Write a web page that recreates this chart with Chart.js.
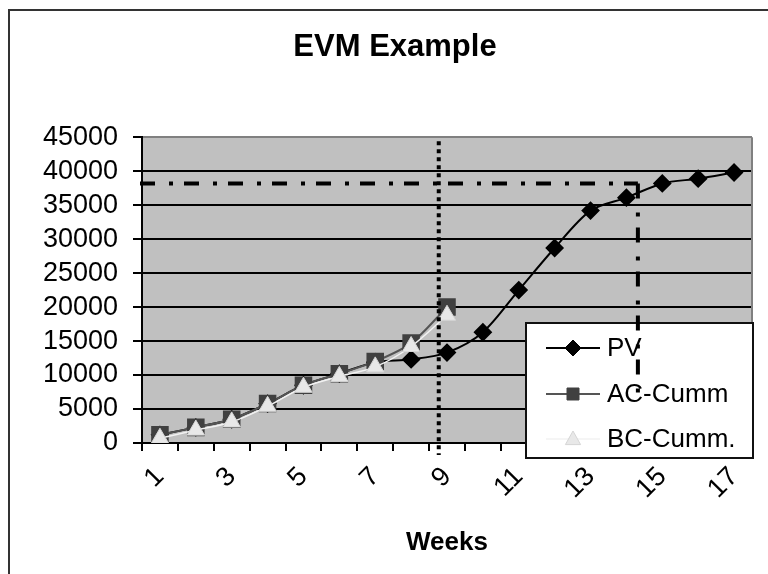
<!DOCTYPE html>
<html lang="en">
<head>
    <meta charset="UTF-8">
    <title>EVM Example</title>
    <script src="https://cdn.jsdelivr.net/npm/chart.js@4.4.0/dist/chart.umd.min.js"></script>
    <style>
        html, body { margin: 0; padding: 0; background: #fff; }
        canvas { display: block; }
    </style>
</head>
<body>
    <canvas id="evmChart" width="768" height="574"></canvas>

    <script>
        // chart data
        var weeks = ['1', '2', '3', '4', '5', '6', '7', '8', '9', '10', '11', '12', '13', '14', '15', '16', '17'];
        var pvValues = [1200, 2300, 3500, 5800, 8500, 10200, 11900, 12300, 13300, 16300, 22500, 28700, 34200, 36100, 38200, 38900, 39800];
        var acValues = [1200, 2300, 3500, 5800, 8500, 10200, 12000, 14700, 20000];
        var bcValues = [700, 1900, 3100, 5400, 8200, 9800, 11200, 14200, 18800];
        var yTickStep = 5000;
        var yMax = 45000;

        // reference lines (week number / value units)
        var statusWeek = 8.77;
        var budgetLevel = 38200;
        var finishWeek = 14.32;
        var finishLineEnd = 6800;

        Chart.defaults.font.family = "'Liberation Sans', Arial, sans-serif";
        Chart.defaults.color = '#000';

        function drawMarker(ctx, style, x, y, r, fill, stroke) {
            ctx.save();
            ctx.fillStyle = fill;
            ctx.strokeStyle = stroke;
            ctx.lineWidth = 1;
            ctx.beginPath();
            if (style === 'rectRot') {
                ctx.moveTo(x, y - r); ctx.lineTo(x + r, y); ctx.lineTo(x, y + r); ctx.lineTo(x - r, y);
            } else if (style === 'rect') {
                ctx.rect(x - r, y - r, 2 * r, 2 * r);
            } else {
                ctx.moveTo(x, y - r); ctx.lineTo(x + r * 0.95, y + r * 0.7); ctx.lineTo(x - r * 0.95, y + r * 0.7);
            }
            ctx.closePath();
            ctx.fill();
            ctx.stroke();
            ctx.restore();
        }

        var evmPlugin = {
            id: 'evmExtras',
            beforeDraw: function (chart) {
                var ctx = chart.ctx, a = chart.chartArea;
                ctx.save();
                // outer frame
                ctx.strokeStyle = '#333';
                ctx.lineWidth = 2;
                ctx.beginPath();
                ctx.moveTo(9, chart.height + 2);
                ctx.lineTo(9, 10);
                ctx.lineTo(chart.width + 2, 10);
                ctx.stroke();
                // plot background
                ctx.fillStyle = '#c0c0c0';
                ctx.fillRect(a.left, a.top, a.right - a.left, a.bottom - a.top);
                ctx.restore();
            },
            afterDraw: function (chart) {
                var ctx = chart.ctx, a = chart.chartArea;
                var xs = chart.scales.x, ys = chart.scales.y;
                ctx.save();

                // right edge of plot
                ctx.strokeStyle = '#808080';
                ctx.lineWidth = 2;
                ctx.beginPath();
                ctx.moveTo(a.right, a.top);
                ctx.lineTo(a.right, a.bottom);
                ctx.stroke();

                // legend box
                var lx = a.right - 226, ly = a.bottom - 120, lw = 227, lh = 135;
                ctx.fillStyle = '#fff';
                ctx.fillRect(lx, ly, lw, lh);
                ctx.strokeStyle = '#111';
                ctx.lineWidth = 2;
                ctx.strokeRect(lx, ly, lw, lh);
                var rowY = [25, 71, 116];
                var markSize = [8, 6, 8];
                chart.data.datasets.forEach(function (ds, i) {
                    var cy = ly + rowY[i];
                    ctx.strokeStyle = ds.borderColor;
                    ctx.lineWidth = ds.borderWidth;
                    ctx.beginPath();
                    ctx.moveTo(lx + 20, cy);
                    ctx.lineTo(lx + 74, cy);
                    ctx.stroke();
                    drawMarker(ctx, ds.pointStyle, lx + 47, cy, markSize[i], ds.pointBackgroundColor, ds.pointBorderColor);
                    ctx.fillStyle = '#000';
                    ctx.font = "26px 'Liberation Sans', Arial, sans-serif";
                    ctx.textBaseline = 'middle';
                    ctx.textAlign = 'left';
                    ctx.fillText(ds.label, lx + 81, cy + 1);
                });

                // dotted status line
                var sx = xs.getPixelForValue(statusWeek - 1);
                ctx.strokeStyle = '#000';
                ctx.lineWidth = 4;
                ctx.setLineDash([4, 4]);
                ctx.beginPath();
                ctx.moveTo(sx, a.top + 4);
                ctx.lineTo(sx, a.bottom + 12);
                ctx.stroke();

                // dash-dot budget line
                var by = ys.getPixelForValue(budgetLevel);
                var fx = xs.getPixelForValue(finishWeek - 1);
                ctx.setLineDash([15, 14, 4, 11]);
                ctx.beginPath();
                ctx.moveTo(a.left - 2, by);
                ctx.lineTo(fx, by);
                ctx.stroke();
                ctx.beginPath();
                ctx.moveTo(fx, by);
                ctx.lineTo(fx, ys.getPixelForValue(finishLineEnd));
                ctx.stroke();
                ctx.restore();
            }
        };

        var ctx = document.getElementById('evmChart').getContext('2d');
        var evmChart = new Chart(ctx, {
            type: 'line',
            data: {
                labels: weeks,
                datasets: [{
                    label: 'PV',
                    data: pvValues,
                    borderColor: '#000',
                    backgroundColor: '#000',
                    borderWidth: 2,
                    pointStyle: 'rectRot',
                    pointRadius: 8,
                    pointBackgroundColor: '#000',
                    pointBorderColor: '#000',
                    tension: 0.3,
                    order: 3
                }, {
                    label: 'AC-Cumm',
                    data: acValues,
                    borderColor: '#555',
                    backgroundColor: '#404040',
                    borderWidth: 2,
                    pointStyle: 'rect',
                    pointRadius: 11,
                    pointBackgroundColor: '#404040',
                    pointBorderColor: '#404040',
                    tension: 0.3,
                    order: 2
                }, {
                    label: 'BC-Cumm.',
                    data: bcValues,
                    borderColor: '#f2f2f2',
                    backgroundColor: '#e8e8e8',
                    borderWidth: 1.5,
                    pointStyle: 'triangle',
                    pointRadius: 10,
                    pointBackgroundColor: '#e8e8e8',
                    pointBorderColor: '#d6d6d6',
                    pointBorderWidth: 1,
                    tension: 0.3,
                    order: 1
                }]
            },
            options: {
                responsive: false,
                animation: false,
                layout: { padding: { left: 38, right: 16, top: 0, bottom: 0 } },
                plugins: {
                    legend: { display: false },
                    tooltip: { enabled: false },
                    title: {
                        display: true,
                        text: 'EVM Example',
                        color: '#000',
                        font: { size: 31, weight: 'bold' },
                        padding: { top: 29, bottom: 71 }
                    }
                },
                scales: {
                    x: {
                        offset: true,
                        grid: { offset: true, drawOnChartArea: false, tickLength: 8, color: '#000', lineWidth: 2 },
                        border: { color: '#000', width: 2 },
                        ticks: {
                            autoSkip: false,
                            minRotation: 45,
                            maxRotation: 45,
                            padding: 10,
                            font: { size: 27 },
                            callback: function (v, i) { return i % 2 === 0 ? weeks[i] : ''; }
                        },
                        title: {
                            display: true,
                            text: 'Weeks',
                            font: { size: 26, weight: 'bold' },
                            padding: { top: 0, bottom: 16 }
                        },
                        afterFit: function (scale) { scale.height = 131; }
                    },
                    y: {
                        min: 0,
                        max: yMax,
                        ticks: {
                            stepSize: yTickStep,
                            autoSkip: false,
                            padding: 15,
                            font: { size: 27 },
                            callback: function (v) { return String(v); }
                        },
                        grid: {
                            color: function (c) { return c.tick && c.tick.value === yMax ? '#808080' : '#000'; },
                            tickColor: '#000',
                            lineWidth: 2,
                            tickLength: 9
                        },
                        border: { color: '#000', width: 2 },
                        afterFit: function (scale) { scale.width = 104; }
                    }
                }
            },
            plugins: [evmPlugin]
        });
    </script>
</body>
</html>
